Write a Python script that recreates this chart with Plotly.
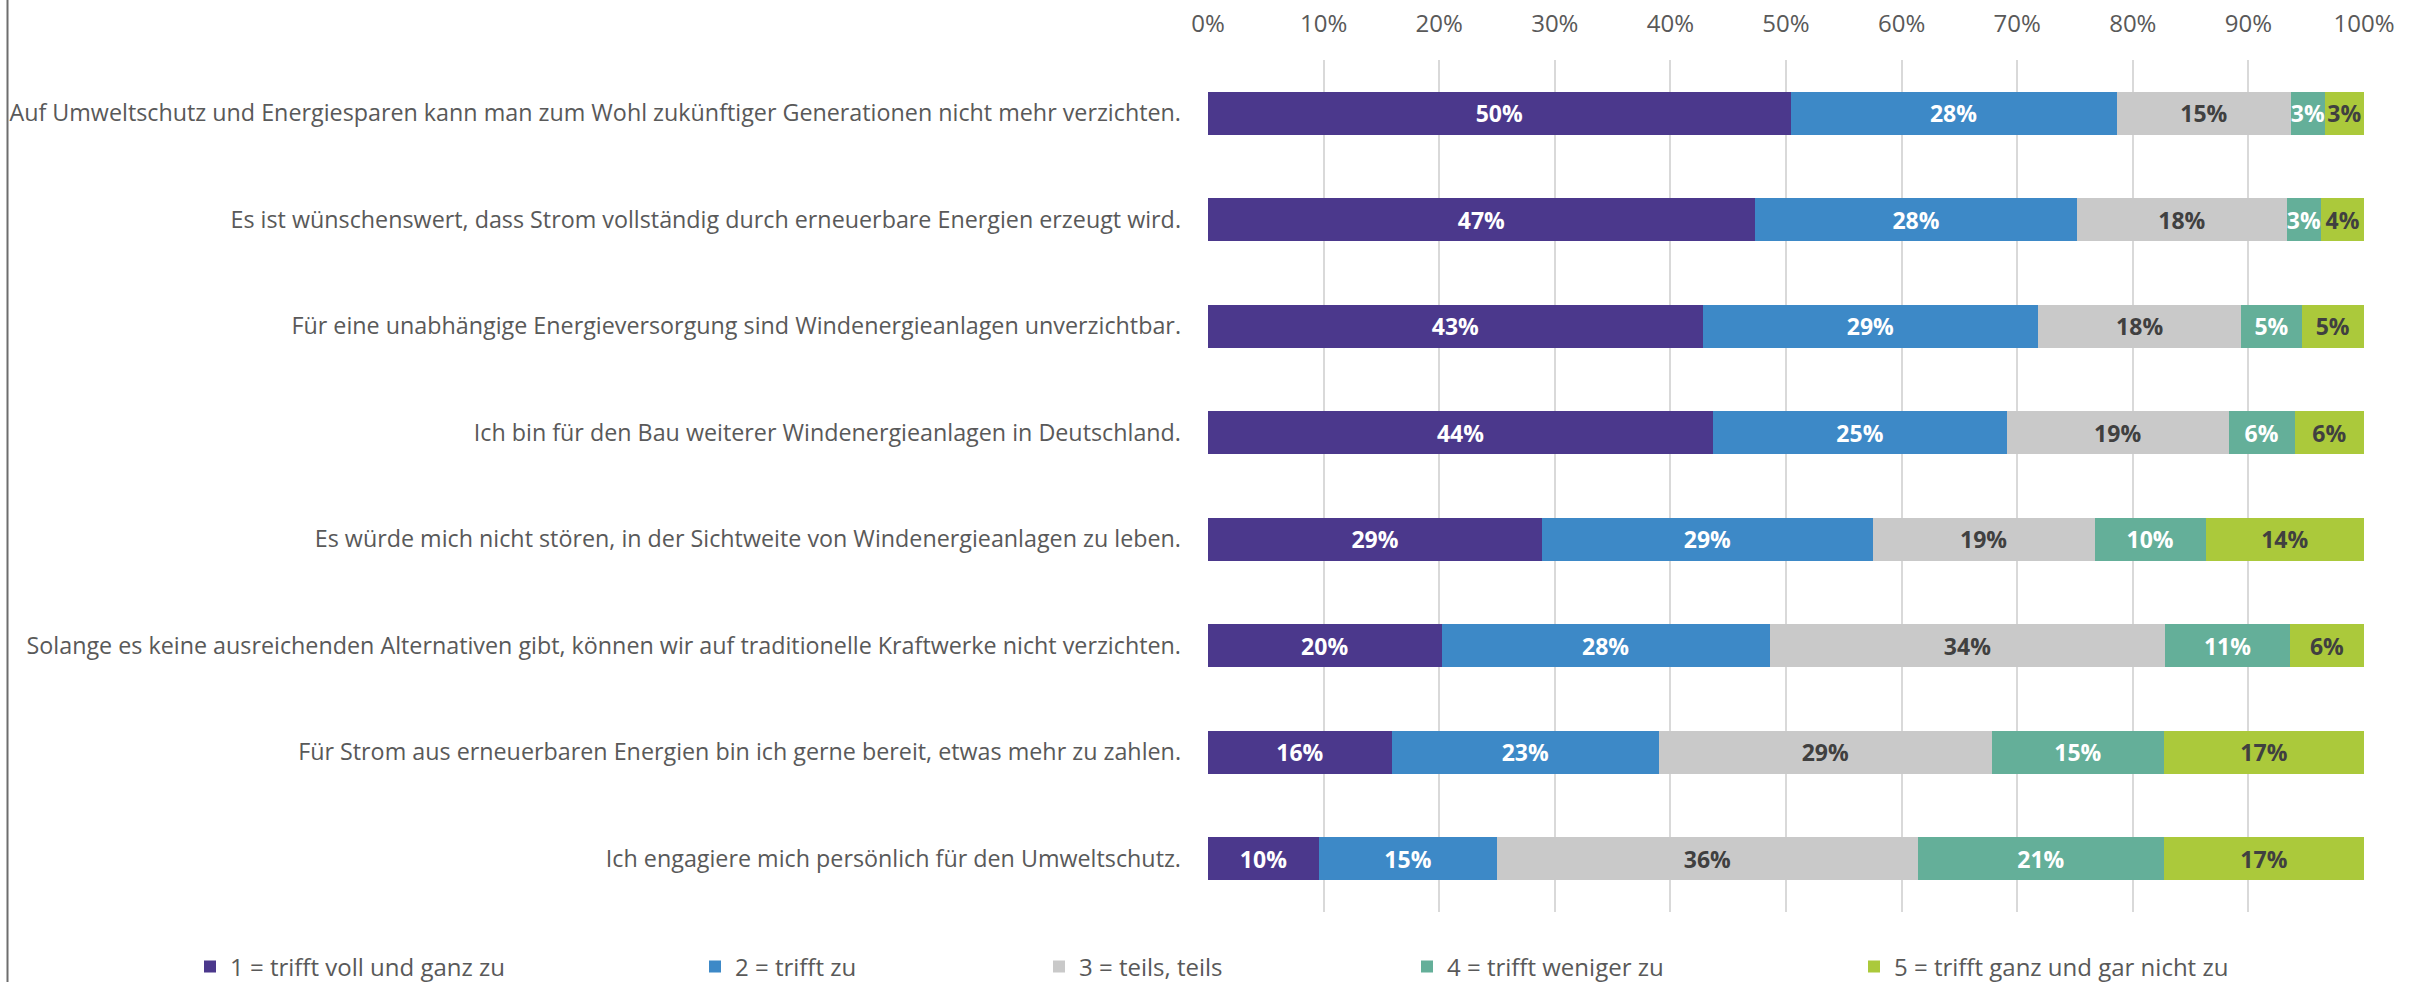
import plotly.graph_objects as go

categories = [
    "Auf Umweltschutz und Energiesparen kann man zum Wohl zukünftiger Generationen nicht mehr verzichten.",
    "Es ist wünschenswert, dass Strom vollständig durch erneuerbare Energien erzeugt wird.",
    "Für eine unabhängige Energieversorgung sind Windenergieanlagen unverzichtbar.",
    "Ich bin für den Bau weiterer Windenergieanlagen in Deutschland.",
    "Es würde mich nicht stören, in der Sichtweite von Windenergieanlagen zu leben.",
    "Solange es keine ausreichenden Alternativen gibt, können wir auf traditionelle Kraftwerke nicht verzichten.",
    "Für Strom aus erneuerbaren Energien bin ich gerne bereit, etwas mehr zu zahlen.",
    "Ich engagiere mich persönlich für den Umweltschutz.",
]

series_names = [
    "1 = trifft voll und ganz zu",
    "2 = trifft zu",
    "3 = teils, teils",
    "4 = trifft weniger zu",
    "5 = trifft ganz und gar nicht zu",
]

s1_voll = [50.4, 47.3, 42.8, 43.7, 28.9, 20.2, 15.9, 9.6]
s2_zu = [28.2, 27.9, 29.0, 25.4, 28.6, 28.4, 23.1, 15.4]
s3_teils = [15.1, 18.1, 17.6, 19.2, 19.2, 34.2, 28.8, 36.4]
s4_weniger = [2.9, 3.0, 5.2, 5.7, 9.6, 10.8, 14.9, 21.3]
s5_garnicht = [3.4, 3.7, 5.4, 6.0, 13.7, 6.4, 17.3, 17.3]

tick_vals = [0, 10, 20, 30, 40, 50, 60, 70, 80, 90, 100]
tick_text = ["0%", "10%", "20%", "30%", "40%", "50%", "60%", "70%", "80%", "90%", "100%"]

series_values = [s1_voll, s2_zu, s3_teils, s4_weniger, s5_garnicht]
colors = ["#4b388c", "#3d89c7", "#c9c9c9", "#64af99", "#abc93b"]
text_colors = ["#ffffff", "#ffffff", "#404040", "#ffffff", "#404040"]

FONT = "Open Sans"
W, H = 2425, 982
ML, MR, MT, MB = 1208, 61, 60, 70
PW = W - ML - MR
PH = H - MT - MB

# legend marker left edges (px)
legend_px = [203, 708, 1052, 1420, 1867]

fig = go.Figure()
for i, (name, vals) in enumerate(zip(series_names, series_values)):
    lname = "legend" if i == 0 else f"legend{i+1}"
    fig.add_trace(go.Bar(
        y=categories, x=vals, name=name, orientation="h",
        marker=dict(color=colors[i], line=dict(width=0)),
        width=0.4,
        texttemplate="%{x:.0f}%",
        textposition="inside",
        insidetextanchor="middle",
        textangle=0,
        constraintext="none",
        insidetextfont=dict(family=FONT, size=23, color=text_colors[i], weight="bold"),
        legend=lname,
        hoverinfo="skip",
    ))

layout_legends = {}
for i, px in enumerate(legend_px):
    lname = "legend" if i == 0 else f"legend{i+1}"
    layout_legends[lname] = dict(
        x=(px - 13 - ML) / PW, xanchor="left",
        y=(-(967 - (MT + PH))) / PH, yanchor="middle",
        orientation="h",
        font=dict(family=FONT, size=24, color="#595959"),
        bgcolor="rgba(0,0,0,0)",
        itemclick=False, itemdoubleclick=False,
    )

fig.update_layout(
    width=W, height=H,
    barmode="stack",
    bargap=0.6,
    plot_bgcolor="white", paper_bgcolor="white",
    margin=dict(l=ML, r=MR, t=MT, b=MB, autoexpand=False),
    font=dict(family=FONT, color="#595959"),
    uniformtext=dict(minsize=23, mode="show"),
    xaxis=dict(
        side="top", range=[0, 100], tickvals=tick_vals, ticktext=tick_text,
        showgrid=True, gridcolor="#d9d9d9", gridwidth=1.5,
        zeroline=False, showline=False,
        tickfont=dict(family=FONT, size=24, color="#595959"),
        ticklabelstandoff=22,
        fixedrange=True,
    ),
    yaxis=dict(
        autorange="reversed", showgrid=False, zeroline=False, showline=False,
        tickfont=dict(family=FONT, size=23.3, color="#595959"),
        ticklabelstandoff=26,
        fixedrange=True,
    ),
    shapes=[dict(
        type="line", xref="paper", yref="paper",
        x0=(7.5 - ML) / PW, x1=(7.5 - ML) / PW,
        y0=(MT + PH) / PH, y1=(MT + PH - H) / PH,
        line=dict(color="#6e6e6e", width=2),
    )],
    showlegend=True,
    **layout_legends,
)

fig.write_html(
    "out.html",
    config={"displayModeBar": False},
    post_script="document.body.style.margin='0';document.body.style.overflow='hidden';",
)
